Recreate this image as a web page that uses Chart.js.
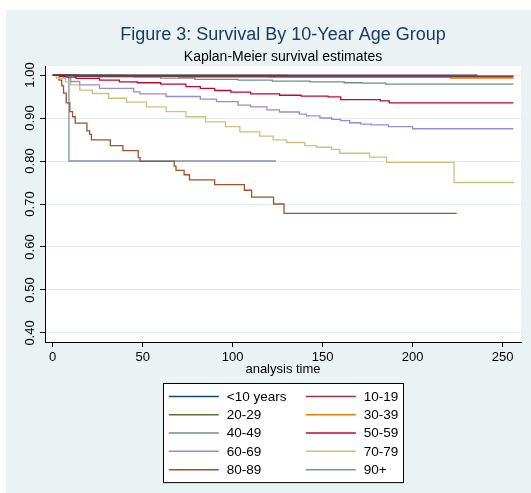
<!DOCTYPE html>
<html>
<head>
<meta charset="utf-8">
<title>Figure 3: Survival By 10-Year Age Group</title>
<script src="https://cdn.jsdelivr.net/npm/chart.js@4.4.1/dist/chart.umd.min.js"></script>
<style>
  html, body { margin: 0; padding: 0; background: #fff; }
  canvas { display: block; }
</style>
</head>
<body>
<canvas id="km" width="531" height="493"></canvas>
<script>
// Kaplan-Meier step curves, one pair of arrays per age group (time, survival)

const groupLabels = ['<10 years', '10-19', '20-29', '30-39', '40-49', '50-59', '60-69', '70-79', '80-89', '90+'];
const groupColors = ['#1a476f', '#90353b', '#55752f', '#e37e00', '#6e8e84', '#c10534', '#938dd2', '#cac27e', '#a0522d', '#7b92a8'];

const timeU10 = [0, 236];
const survU10 = [1.000, 1.000];

const time1019 = [0, 12, 70, 256];
const surv1019 = [1.000, 0.997, 0.996, 0.996];

const time2029 = [0, 40, 130, 256];
const surv2029 = [1.000, 0.999, 0.998, 0.998];

const time3039 = [0, 15, 60, 120, 221, 256];
const surv3039 = [1.000, 0.998, 0.997, 0.996, 0.993, 0.993];

const time4049 = [0, 8, 25, 45, 60, 79, 103, 122, 143, 162, 172, 185, 256];
const surv4049 = [1.000, 0.998, 0.996, 0.995, 0.993, 0.990, 0.988, 0.986, 0.984, 0.982, 0.981, 0.979, 0.979];

const time5059 = [0, 4, 8, 13, 26, 37, 47, 60, 74, 82, 90, 99, 110, 126, 138, 153, 160, 182, 187, 256];
const surv5059 = [1.000, 0.997, 0.995, 0.992, 0.988, 0.984, 0.982, 0.979, 0.973, 0.969, 0.964, 0.960, 0.956, 0.953, 0.951, 0.949, 0.943, 0.940, 0.935, 0.935];

const time6069 = [0, 6, 10, 15, 26, 45, 48.5, 63, 82, 91, 103, 110, 119, 126, 137, 141, 148.5, 155, 160, 165, 171, 177, 186.5, 200, 256];
const surv6069 = [1.000, 0.995, 0.985, 0.977, 0.969, 0.961, 0.956, 0.950, 0.944, 0.938, 0.930, 0.926, 0.919, 0.914, 0.909, 0.905, 0.900, 0.897, 0.894, 0.889, 0.886, 0.884, 0.880, 0.875, 0.875];

const time7079 = [0, 2, 7, 10, 15, 22, 31, 41, 52, 63, 74, 85, 96, 104, 115, 122.5, 130, 140, 146.5, 155, 159.5, 176, 185.5, 223, 256.5];
const surv7079 = [1.000, 0.992, 0.984, 0.977, 0.965, 0.957, 0.946, 0.937, 0.926, 0.915, 0.903, 0.891, 0.880, 0.868, 0.858, 0.849, 0.843, 0.836, 0.832, 0.827, 0.818, 0.809, 0.797, 0.750, 0.750];

const time8089 = [0, 3.5, 5, 6, 7.5, 9.5, 11, 12.5, 19, 20.5, 21.5, 32, 39, 47.5, 48.5, 67.5, 68.5, 73, 76, 90, 106.5, 110.5, 122.7, 128.5, 224.5];
const surv8089 = [1.000, 0.988, 0.975, 0.958, 0.935, 0.915, 0.903, 0.888, 0.870, 0.862, 0.849, 0.836, 0.824, 0.808, 0.799, 0.788, 0.778, 0.768, 0.756, 0.745, 0.732, 0.716, 0.700, 0.678, 0.678];

const time90 = [0, 9, 124];
const surv90 = [1.000, 0.800, 0.800];

const groupTimes = [timeU10, time1019, time2029, time3039, time4049, time5059, time6069, time7079, time8089, time90];
const groupSurv  = [survU10, surv1019, surv2029, surv3039, surv4049, surv5059, surv6069, surv7079, surv8089, surv90];

const xTicks = [0, 50, 100, 150, 200, 250];
const yTicks = [0.40, 0.50, 0.60, 0.70, 0.80, 0.90, 1.00];

const FONT = '"Liberation Sans", Arial, Helvetica, sans-serif';
const BG = '#eaf2f3';
Chart.defaults.font.family = FONT;
Chart.defaults.color = '#000';

// ── Background: light frame + white plot region ──────────────
const frameBg = {
    id: 'frameBg',
    beforeDraw(chart) {
        const { ctx, chartArea: a, width, height } = chart;
        ctx.save();
        ctx.fillStyle = '#fff';
        ctx.fillRect(0, 0, width, height);
        ctx.fillStyle = BG;
        ctx.fillRect(6, 10, width - 6, height - 10);
        ctx.fillStyle = '#fff';
        ctx.fillRect(a.left, a.top, a.right - a.left, a.bottom - a.top);
        ctx.restore();
    }
};

// ── Two-column boxed legend under the axis title ─────────────
const boxLegend = {
    id: 'boxLegend',
    afterDraw(chart, args, o) {
        const { ctx, chartArea: a } = chart;
        const sets = chart.data.datasets;
        const rows = Math.ceil(sets.length / 2);
        const h = rows * o.rowHeight + o.padY * 2;
        const left = Math.round((a.left + a.right) / 2 - o.width / 2) + 0.5;
        const top = Math.round(chart.scales.x.bottom + o.gap) + 0.5;
        ctx.save();
        ctx.fillStyle = '#fff';
        ctx.fillRect(left, top, o.width, h);
        ctx.strokeStyle = '#000';
        ctx.lineWidth = 1;
        ctx.strokeRect(left, top, o.width, h);
        ctx.font = o.fontSize + 'px ' + FONT;
        ctx.textBaseline = 'middle';
        ctx.textAlign = 'left';
        sets.forEach((ds, i) => {
            const x0 = left + o.colX[i % 2];
            const y = top + o.padY + o.rowHeight * (Math.floor(i / 2) + 0.5);
            ctx.strokeStyle = ds.borderColor;
            ctx.lineWidth = 1.5;
            ctx.beginPath();
            ctx.moveTo(x0, y);
            ctx.lineTo(x0 + o.sample, y);
            ctx.stroke();
            ctx.fillStyle = '#000';
            ctx.fillText(ds.label, x0 + o.sample + o.textGap, y + 0.5);
        });
        ctx.restore();
    }
};

const datasets = groupLabels.map((label, g) => ({
    label,
    data: groupTimes[g].map((t, i) => ({ x: t, y: groupSurv[g][i] })),
    borderColor: groupColors[g],
    backgroundColor: groupColors[g],
    borderWidth: 1.3,
    stepped: 'before',
    pointRadius: 0,
    fill: false
}));

new Chart(document.getElementById('km'), {
    type: 'line',
    data: { datasets },
    plugins: [frameBg, boxLegend],
    options: {
        responsive: false,
        animation: false,
        events: [],
        layout: { autoPadding: false, padding: { left: 20, right: 10, top: 20, bottom: 115.5 } },
        plugins: {
            legend: { display: false },
            tooltip: { enabled: false },
            title: {
                display: true,
                text: 'Figure 3: Survival By 10-Year Age Group',
                color: '#1f3a60',
                fullSize: false,
                font: { size: 18, weight: 'normal' },
                padding: { top: 4.2, bottom: 1.4 }
            },
            subtitle: {
                display: true,
                text: 'Kaplan-Meier survival estimates',
                color: '#000',
                fullSize: false,
                font: { size: 14, weight: 'normal' },
                padding: { top: 1.4, bottom: 0.6 }
            },
            boxLegend: {
                width: 240, rowHeight: 18.3, padY: 3.8, gap: 5.2,
                colX: [5.3, 142.3], sample: 50, textGap: 8, fontSize: 13.5
            }
        },
        scales: {
            x: {
                type: 'linear',
                min: -4.3,
                max: 260.2,
                afterBuildTicks: s => { s.ticks = xTicks.map(v => ({ value: v })); },
                afterFit: s => { s.height = 35.5; },
                ticks: { color: '#000', padding: 3, font: { size: 13 }, maxRotation: 0 },
                grid: { drawOnChartArea: false, tickColor: '#000', tickLength: 5, lineWidth: 1 },
                border: { color: '#000', width: 1 },
                title: { display: true, text: 'analysis time', color: '#000', font: { size: 13 }, padding: 0 }
            },
            y: {
                type: 'linear',
                min: 0.379,
                max: 1.021,
                afterBuildTicks: s => { s.ticks = yTicks.map(v => ({ value: v })); },
                afterFit: s => { s.width = 25; },
                ticks: {
                    color: '#000', font: { size: 13 },
                    minRotation: 90, maxRotation: 90,
                    crossAlign: 'center', padding: -2.6,
                    callback: v => v.toFixed(2)
                },
                grid: { color: '#e3edef', tickColor: '#000', tickLength: 5, lineWidth: 1 },
                border: { color: '#000', width: 1 }
            }
        }
    }
});
</script>
</body>
</html>
